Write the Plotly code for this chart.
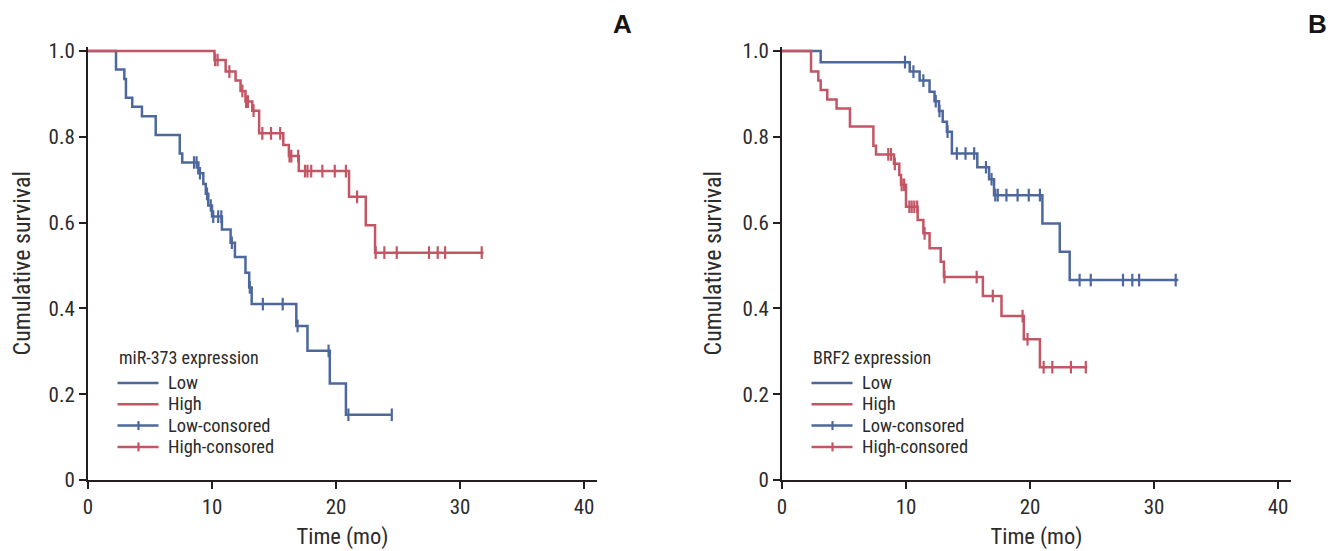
import numpy as np
import plotly.graph_objects as go

# ---------------- Data ----------------
# Panel A: miR-373 expression
a_low_t = [2.26, 2.93, 3.06, 3.57, 4.35, 5.46, 7.4, 7.6, 8.9, 9.3, 9.5, 9.7, 10.0, 10.8, 11.5, 11.85, 12.7, 13.0, 13.2, 16.8, 17.7, 19.5, 20.8]
a_low_s = [0.957, 0.935, 0.891, 0.870, 0.848, 0.804, 0.761, 0.740, 0.715, 0.690, 0.667, 0.640, 0.614, 0.584, 0.553, 0.520, 0.483, 0.449, 0.410, 0.359, 0.301, 0.225, 0.152]
a_low_cens = [8.55, 8.76, 9.03, 9.6, 9.9, 10.1, 10.5, 10.75, 11.6, 13.05, 14.1, 15.7, 16.9, 19.4, 21.0, 24.5]
a_low_end = 24.5

a_high_t = [10.2, 11.1, 11.9, 12.3, 12.7, 13.25, 13.8, 15.75, 16.2, 17.0, 21.05, 22.4, 23.15]
a_high_s = [0.979, 0.952, 0.931, 0.907, 0.882, 0.861, 0.808, 0.781, 0.755, 0.720, 0.660, 0.594, 0.530]
a_high_cens = [10.25, 10.45, 11.4, 12.45, 12.75, 12.9, 13.35, 14.06, 14.76, 15.5, 16.25, 16.4, 16.95,
               17.5, 17.7, 18.0, 18.9, 19.9, 20.8, 21.7, 23.2, 23.9, 24.9, 27.5, 28.2, 28.8, 31.75]
a_high_end = 31.9

# Panel B: BRF2 expression
b_low_t = [3.12, 10.3, 11.1, 11.9, 12.3, 12.66, 12.96, 13.3, 13.7, 15.75, 16.7, 17.1, 21.0, 22.4, 23.2]
b_low_s = [0.974, 0.952, 0.931, 0.905, 0.883, 0.860, 0.835, 0.812, 0.761, 0.729, 0.701, 0.664, 0.598, 0.532, 0.466]
b_low_cens = [9.92, 10.6, 11.4, 12.4, 12.7, 13.35, 14.1, 14.8, 15.5, 16.45, 16.9, 17.2, 17.4, 18.1, 19.0,
              19.9, 20.8, 24.0, 24.9, 27.5, 28.25, 28.8, 31.75]
b_low_end = 31.96

b_high_t = [2.34, 2.93, 3.12, 3.65, 4.4, 5.48, 7.37, 7.58, 9.03, 9.46, 9.6, 10.0, 10.94, 11.4, 11.9, 12.8, 13.06, 16.2, 17.7, 19.5, 20.8]
b_high_s = [0.952, 0.931, 0.909, 0.887, 0.866, 0.824, 0.779, 0.759, 0.737, 0.711, 0.688, 0.637, 0.606, 0.575, 0.540, 0.509, 0.473, 0.429, 0.382, 0.328, 0.263]
b_high_cens = [8.57, 8.79, 9.1, 9.65, 9.85, 10.27, 10.46, 10.67, 10.9, 11.5, 13.1, 15.7, 17.0, 19.4, 19.8,
               21.1, 21.8, 23.3, 24.5]
b_high_end = 24.6

x_ticks = [0, 10, 20, 30, 40]
y_ticks = [0, 0.2, 0.4, 0.6, 0.8, 1.0]
y_tick_text = ["0", "0.2", "0.4", "0.6", "0.8", "1.0"]

legend_labels = ["Low", "High", "Low-consored", "High-consored"]

panels = [
    dict(title="miR-373 expression", letter="A",
         groups=[("Low", a_low_t, a_low_s, a_low_cens, a_low_end),
                 ("High", a_high_t, a_high_s, a_high_cens, a_high_end)]),
    dict(title="BRF2 expression", letter="B",
         groups=[("Low", b_low_t, b_low_s, b_low_cens, b_low_end),
                 ("High", b_high_t, b_high_s, b_high_cens, b_high_end)]),
]

# ---------------- Styling ----------------
W, H = 1338, 551
OFF = 8  # page body margin
BLUE = "#4d689c"
RED = "#c25664"
COLORS = {"Low": BLUE, "High": RED}
FONT = "Liberation Sans Narrow, Roboto Condensed, Arial Narrow, Roboto, sans-serif"
TXT = "#2b2b2b"
AX = "#231f20"

# pixel geometry (screen pixels)
x_px = [(88, 597), (782, 1291)]
y_top, y_bot = 46.5, 480
letter_x = [622, 1317]

def px_x(p):
    return (p - OFF) / W

def px_y(p):
    return 1 - (p - OFF) / H

fig = go.Figure()
shapes = []
annotations = []

for i, panel in enumerate(panels):
    xa = "x" if i == 0 else "x2"
    ya = "y" if i == 0 else "y2"
    for name, t, s, cens, end in panel["groups"]:
        col = COLORS[name]
        xs = [0] + list(t) + [end]
        ys = [1.0] + list(s) + [s[-1]]
        fig.add_trace(go.Scatter(x=xs, y=ys, mode="lines", line=dict(color=col, width=2.5, shape="hv"),
                                 xaxis=xa, yaxis=ya, showlegend=False, hoverinfo="skip", name=name))
        # censor marks placed on the step function
        t_arr = np.array(t)
        s_arr = np.array(s)
        c_arr = np.array(cens)
        idx = np.searchsorted(t_arr, c_arr, side="right") - 1
        cy = np.where(idx >= 0, s_arr[np.clip(idx, 0, None)], 1.0)
        fig.add_trace(go.Scatter(x=c_arr, y=cy, mode="markers",
                                 marker=dict(symbol="line-ns", size=9, line=dict(color=col, width=2.2)),
                                 xaxis=xa, yaxis=ya, showlegend=False, hoverinfo="skip",
                                 name=name + "-consored"))

    # manual legend (pixel layout relative to the panel)
    lx0 = x_px[i][0] + 29.5
    annotations.append(dict(x=px_x(lx0 - 1), y=px_y(357), xref="paper", yref="paper",
                            text=panel["title"], showarrow=False, xanchor="left", yanchor="middle",
                            font=dict(family=FONT, size=18, color=TXT)))
    for k, lab in enumerate(legend_labels):
        ly = 383 + k * 21.3
        col = BLUE if lab.startswith("Low") else RED
        shapes.append(dict(type="line", xref="paper", yref="paper",
                           x0=px_x(lx0), x1=px_x(lx0 + 41), y0=px_y(ly), y1=px_y(ly),
                           line=dict(color=col, width=2.5)))
        if "consored" in lab:
            shapes.append(dict(type="line", xref="paper", yref="paper",
                               x0=px_x(lx0 + 21), x1=px_x(lx0 + 21), y0=px_y(ly - 4.5), y1=px_y(ly + 4.5),
                               line=dict(color=col, width=2.2)))
        annotations.append(dict(x=px_x(lx0 + 48), y=px_y(ly), xref="paper", yref="paper",
                                text=lab, showarrow=False, xanchor="left", yanchor="middle",
                                font=dict(family=FONT, size=18.5, color=TXT)))
    annotations.append(dict(x=px_x(letter_x[i]), y=1.0, xref="paper", yref="paper",
                            text="<b>%s</b>" % panel["letter"], showarrow=False,
                            xanchor="center", yanchor="top", borderpad=0,
                            font=dict(family="Liberation Sans, Arial, sans-serif", size=26, color="#151515")))

axis_common = dict(showline=True, linecolor=AX, linewidth=2, ticks="outside", ticklen=7, tickwidth=2,
                   tickcolor=AX, showgrid=False, zeroline=False, mirror=False, automargin=False,
                   tickfont=dict(family=FONT, size=21, color=TXT))

layout = dict(width=W, height=H, margin=dict(l=0, r=0, t=0, b=0, autoexpand=False),
              plot_bgcolor="white", paper_bgcolor="white", showlegend=False,
              font=dict(family=FONT, color=TXT), shapes=shapes, annotations=annotations)

for i, panel in enumerate(panels):
    sx = "" if i == 0 else "2"
    x0, x1 = x_px[i]
    xrange_max = (x1 - x0) / 12.4
    layout["xaxis" + sx] = dict(axis_common, domain=[px_x(x0), px_x(x1)], range=[0, xrange_max],
                                tickvals=x_ticks, anchor="y" + sx,
                                title=dict(text="Time (mo)", font=dict(family=FONT, size=22.5, color=TXT), standoff=10))
    layout["yaxis" + sx] = dict(axis_common, domain=[px_y(y_bot), px_y(y_top)],
                                range=[0, (y_bot - y_top) / 429.0], tickvals=y_ticks, ticktext=y_tick_text,
                                anchor="x" + sx,
                                title=dict(text="Cumulative survival", font=dict(family=FONT, size=24, color=TXT), standoff=14))

fig.update_layout(**layout)

fig.write_html("out.html")
